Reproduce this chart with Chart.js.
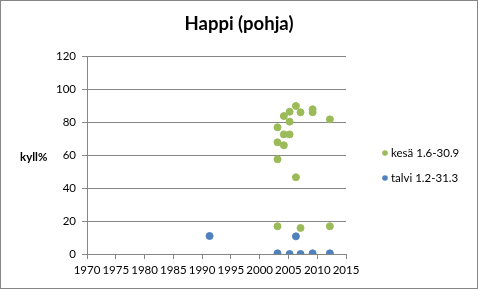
<!DOCTYPE html>
<html>
<head>
<meta charset="utf-8">
<script src="https://cdn.jsdelivr.net/npm/chart.js@4"></script>
<style>
  html, body { margin: 0; padding: 0; background: #fff; }
  #wrap { position: absolute; left: 0; top: 0; width: 478px; height: 289px; box-sizing: border-box; border: 1px solid #868686; }
  #chart { display: block; }
</style>
</head>
<body>
<div id="wrap"><canvas id="chart" width="476" height="287"></canvas></div>
<script>
// --- Data ---
const kesaYears  = [2003.1, 2003.1, 2003.1, 2003.1, 2004.2, 2004.2, 2004.2, 2005.2, 2005.2, 2005.2, 2006.3, 2006.3, 2007.1, 2007.1, 2009.2, 2009.2, 2012.2, 2012.2];
const kesaValues = [76.8, 67.7, 57.4, 16.8, 83.6, 72.5, 65.9, 86.2, 80.2, 72.5, 89.7, 46.5, 85.9, 15.8, 87.7, 85.9, 81.6, 16.8];
const talviYears  = [1991.3, 2003.1, 2005.2, 2006.3, 2007.1, 2009.2, 2012.2];
const talviValues = [10.9, 0.4, 0, 10.7, 0, 0.4, 0.4];
const seriesLabels = ['kesä 1.6-30.9', 'talvi 1.2-31.3'];
const seriesColors = ['#9BBB59', '#4F81BD'];
const chartTitle = 'Happi (pohja)';
const yAxisTitle = 'kyll%';

const FONT = 'Lato, "Open Sans", sans-serif';
const GRID = '#868686';

const toPoints = (xs, ys) => xs.map((x, i) => ({ x, y: ys[i] }));

// title is centred on the whole chart, the y-axis title is horizontal and
// the legend sits lower than Chart.js would put it, so these are drawn by hand
const extras = {
  id: 'extras',
  afterDraw(chart) {
    const { ctx, chartArea, width } = chart;
    ctx.save();
    ctx.fillStyle = '#000';
    ctx.textBaseline = 'middle';

    ctx.textAlign = 'center';
    ctx.font = `bold 18.5px ${FONT}`;
    ctx.fillText(chartTitle, width / 2, 23);

    ctx.textAlign = 'left';
    ctx.font = `bold 11.5px ${FONT}`;
    ctx.fillText(yAxisTitle, 19, (chartArea.top + chartArea.bottom) / 2 + 2);

    ctx.font = `11.5px ${FONT}`;
    chart.data.datasets.forEach((ds, i) => {
      const y = 152 + i * 25;
      ctx.beginPath();
      ctx.fillStyle = ds.backgroundColor;
      ctx.arc(384, y, 2.8, 0, Math.PI * 2);
      ctx.fill();
      ctx.fillStyle = '#000';
      ctx.fillText(ds.label, 390, y);
    });
    ctx.restore();
  }
};

new Chart(document.getElementById('chart'), {
  type: 'scatter',
  data: {
    datasets: [
      { label: seriesLabels[0], data: toPoints(kesaYears, kesaValues), backgroundColor: seriesColors[0], borderColor: seriesColors[0], pointRadius: 3.5 },
      { label: seriesLabels[1], data: toPoints(talviYears, talviValues), backgroundColor: seriesColors[1], borderColor: seriesColors[1], pointRadius: 3.5 },
    ]
  },
  options: {
    responsive: false,
    animation: false,
    layout: { padding: { left: 0, right: 131, top: 55, bottom: 3 } },
    scales: {
      x: {
        type: 'linear', min: 1970, max: 2015,
        afterFit: s => { s.height = 31; },
        ticks: { stepSize: 5, maxRotation: 0, autoSkip: false, color: '#000', font: { family: FONT, size: 11.5 }, padding: 4, callback: v => String(v) },
        grid: { drawOnChartArea: false, drawTicks: true, tickLength: 5, color: GRID },
        border: { color: GRID },
      },
      y: {
        min: 0, max: 120,
        afterFit: s => { s.width = 86; },
        ticks: { stepSize: 20, color: '#000', font: { family: FONT, size: 11.5 }, padding: 6 },
        grid: { color: GRID, tickLength: 5 },
        border: { color: GRID },
      }
    },
    plugins: {
      title: { display: false },
      legend: { display: false },
      tooltip: { enabled: false }
    }
  },
  plugins: [extras]
});
</script>
</body>
</html>
